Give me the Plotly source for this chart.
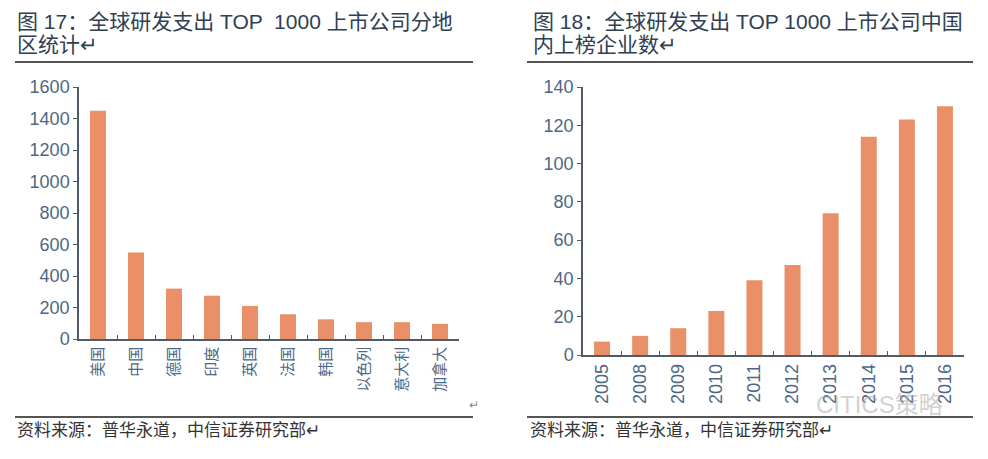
import plotly.graph_objects as go

# ---- data ----
regions = ["美国", "中国", "德国", "印度", "英国", "法国", "韩国", "以色列", "意大利", "加拿大"]
region_counts = [1450, 550, 320, 275, 210, 157, 125, 107, 107, 96]

years = ["2005", "2008", "2009", "2010", "2011", "2012", "2013", "2014", "2015", "2016"]
china_counts = [7, 10, 14, 23, 39, 47, 74, 114, 123, 130]

left_ticks = [0, 200, 400, 600, 800, 1000, 1200, 1400, 1600]
right_ticks = [0, 20, 40, 60, 80, 100, 120, 140]

title_left = ["图 17：全球研发支出 TOP  1000 上市公司分地", "区统计↵"]
title_right = ["图 18：全球研发支出 TOP 1000 上市公司中国", "内上榜企业数↵"]
source_text = "资料来源：普华永道，中信证券研究部↵"

# ---- style ----
PAGE_MARGIN = 8          # default body margin of the html page
W, H = 988 - 2 * PAGE_MARGIN, 459 - 2 * PAGE_MARGIN
BAR = "#EA9068"
AXIS = "#4f5b66"
TICK = "#4d6784"
TITLE = "#2f4052"
FONT = "Arial, 'Liberation Sans', 'Noto Sans CJK SC', sans-serif"


def px(x):
    return (x - PAGE_MARGIN) / W


def py(y):
    return 1 - (y - PAGE_MARGIN) / H


fig = go.Figure()
fig.add_trace(go.Bar(x=regions, y=region_counts, marker_color=BAR, marker_line_width=0,
                     xaxis="x", yaxis="y", showlegend=False))
fig.add_trace(go.Bar(x=years, y=china_counts, marker_color=BAR, marker_line_width=0,
                     xaxis="x2", yaxis="y2", showlegend=False))

axis_common = dict(showline=True, linecolor=AXIS, linewidth=1.5, showgrid=False,
                   zeroline=False, tickcolor=AXIS, ticklen=4, automargin=False,
                   tickfont=dict(family=FONT, color=TICK, size=18))

xaxis_common = dict(type="category", ticks="inside", tickson="boundaries", tickangle=-90,
                    showline=True, linecolor=AXIS, linewidth=1.5, showgrid=False,
                    tickcolor=AXIS, ticklen=4, automargin=False)

fig.update_layout(
    width=W, height=H,
    margin=dict(l=0, r=0, t=0, b=0),
    paper_bgcolor="white", plot_bgcolor="white",
    bargap=0.58,
    font=dict(family=FONT),
    xaxis=dict(domain=[px(79), px(459)], anchor="y",
               tickfont=dict(family=FONT, color=TICK, size=15), **xaxis_common),
    yaxis=dict(domain=[py(339), py(87)], anchor="x", range=[0, 1600],
               tickvals=left_ticks, ticks="outside", **axis_common),
    xaxis2=dict(domain=[px(583), px(964)], anchor="y2",
                tickfont=dict(family=FONT, color=TICK, size=18), **xaxis_common),
    yaxis2=dict(domain=[py(355), py(87)], anchor="x2", range=[0, 140],
                tickvals=right_ticks, ticks="outside", **axis_common),
)

anns = []
# titles
for i, line in enumerate(title_left):
    anns.append(dict(text=line, x=px(15), y=py([21, 44][i]), xanchor="left", yanchor="middle",
                     showarrow=False, xref="paper", yref="paper",
                     font=dict(family=FONT, size=21, color=TITLE)))
for i, line in enumerate(title_right):
    anns.append(dict(text=line, x=px(531), y=py([21, 44][i]), xanchor="left", yanchor="middle",
                     showarrow=False, xref="paper", yref="paper",
                     font=dict(family=FONT, size=21, color=TITLE)))
# sources
for x0 in (15, 528):
    anns.append(dict(text=source_text, x=px(x0), y=py(430), xanchor="left", yanchor="middle",
                     showarrow=False, xref="paper", yref="paper",
                     font=dict(family=FONT, size=17, color="#333333")))
# return mark after left labels
anns.append(dict(text="↵", x=px(474), y=py(405), xanchor="center", yanchor="middle",
                 showarrow=False, xref="paper", yref="paper",
                 font=dict(family=FONT, size=12, color="#888888")))
# watermark
anns.append(dict(text="CITICS策略", x=px(945), y=py(404), xanchor="right", yanchor="middle",
                 showarrow=False, xref="paper", yref="paper",
                 font=dict(family=FONT, size=24, color="rgba(170,170,170,0.55)")))
fig.update_layout(annotations=anns)

shapes = []
for (x0, x1) in ((15, 473), (527, 973)):
    for y in (62, 417):
        shapes.append(dict(type="line", xref="paper", yref="paper",
                           x0=px(x0), x1=px(x1), y0=py(y), y1=py(y),
                           line=dict(color="#555555", width=2)))
fig.update_layout(shapes=shapes)

fig.write_html("out.html")
